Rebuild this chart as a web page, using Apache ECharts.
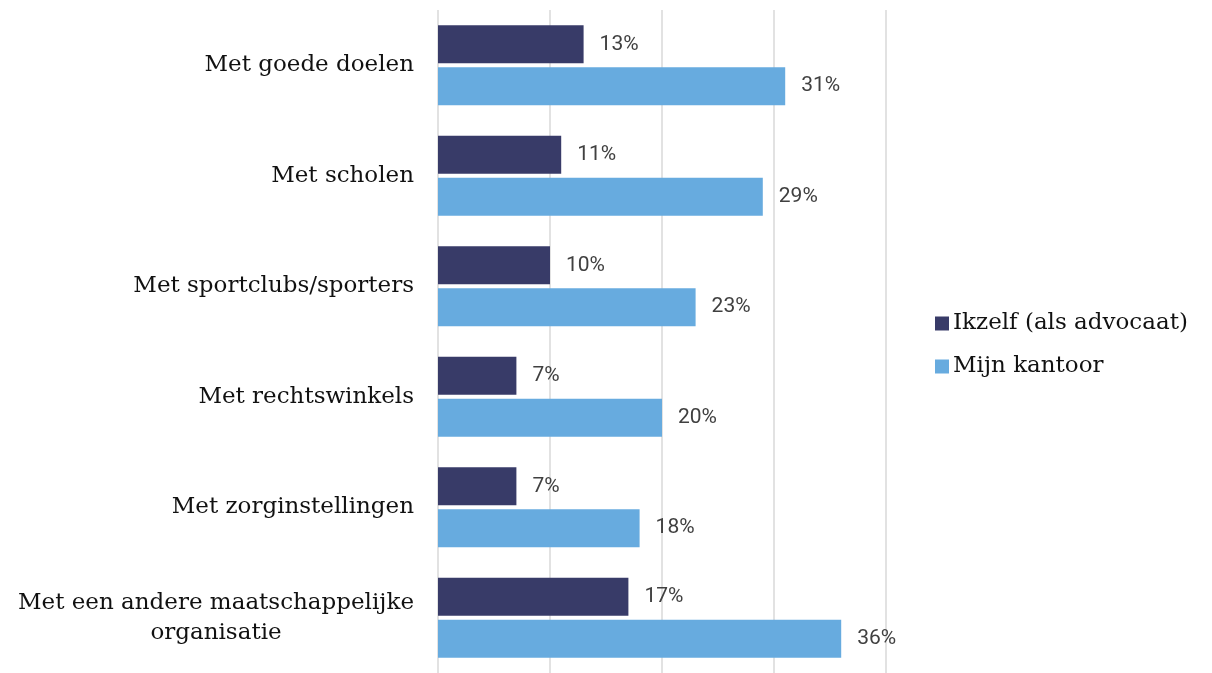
<!DOCTYPE html>
<html>
<head>
<meta charset="utf-8">
<script src="https://cdn.jsdelivr.net/npm/echarts@6/dist/echarts.min.js"></script>
<style>html,body{margin:0;padding:0;background:#fff;}#c{width:1212px;height:673px;}</style>
</head>
<body>
<div id="c"></div>
<script>
const categories = [
  "Met goede doelen",
  "Met scholen",
  "Met sportclubs/sporters",
  "Met rechtswinkels",
  "Met zorginstellingen",
  "Met een andere maatschappelijke\norganisatie"
];
const seriesNames = ["Ikzelf (als advocaat)", "Mijn kantoor"];
const ikzelf = [13, 11, 10, 7, 7, 17];
const kantoor = [31, 29, 23, 20, 18, 36];
const colors = ["#383B68", "#67ABDF"];

const serif = "'DejaVu Serif', 'Liberation Serif', serif";
const chart = echarts.init(document.getElementById('c'), null, {renderer: 'canvas'});
const mkSeries = (name, data, color) => ({
  name, type: 'bar', data,
  barWidth: 38, barGap: '10%',
  itemStyle: {color},
  label: {show: true, position: 'right', distance: 16, formatter: '{c}%',
    fontFamily: 'Roboto', fontSize: 21, color: '#404040'},
  emphasis: {disabled: true}, animation: false
});
chart.setOption({
  animation: false,
  grid: {left: 438, right: 326, top: 10, bottom: -3, containLabel: false},
  legend: {
    orient: 'vertical', left: 930, top: 307, itemWidth: 14, itemHeight: 14, itemGap: 20,
    icon: 'rect',
    textStyle: {fontFamily: serif, fontSize: 23, color: '#111', padding: [0,0,0,-1]},
    data: seriesNames
  },
  xAxis: {
    type: 'value', min: 0, max: 40, interval: 10,
    axisLabel: {show: false}, axisLine: {show: false}, axisTick: {show: false},
    splitLine: {show: true, lineStyle: {color: '#d9d9d9', width: 1.5}}
  },
  yAxis: {
    type: 'category', inverse: true, data: categories,
    axisLine: {show: false}, axisTick: {show: false},
    axisLabel: {
      margin: 24,
      formatter: v => v.split('\n').map(s => '{c|' + s + '}').join('\n'),
      rich: {c: {align: 'center', fontFamily: serif, fontSize: 23, color: '#111', lineHeight: 30}}
    }
  },
  series: [mkSeries(seriesNames[0], ikzelf, colors[0]), mkSeries(seriesNames[1], kantoor, colors[1])]
});
</script>
</body>
</html>
